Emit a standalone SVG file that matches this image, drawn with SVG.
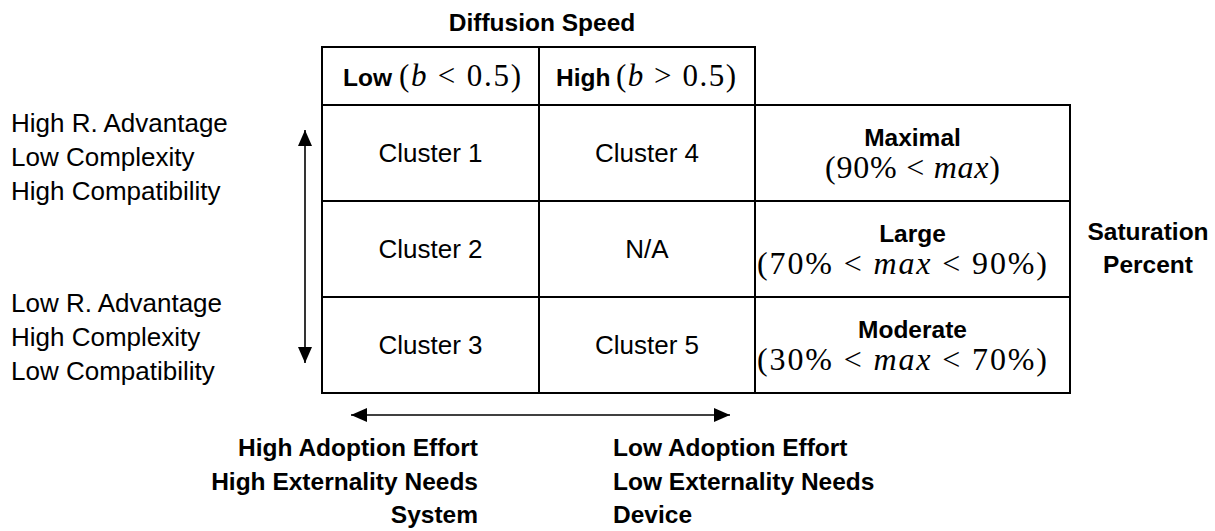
<svg xmlns="http://www.w3.org/2000/svg" width="1215" height="531" viewBox="0 0 1215 531">
<style>
  .cell { fill: #ffffff; stroke: #000000; stroke-width: 2; }
  .t { font-family: "Liberation Sans", Arial, sans-serif; font-size: 26px; fill: #000000; }
  .b { font-family: "Liberation Sans", Arial, sans-serif; font-size: 24.5px; font-weight: bold; fill: #000000; }
  .m { font-family: "Liberation Serif", "Times New Roman", serif; font-size: 31px; fill: #000000; }
  .i { font-style: italic; }
  .mid { text-anchor: middle; }
  .end { text-anchor: end; }
  .arrow { stroke: #000000; stroke-width: 1.6; fill: none; marker-start: url(#head); marker-end: url(#head); }
</style>
<defs>
  <marker id="head" viewBox="0 0 16 14" refX="16" refY="7" markerWidth="16" markerHeight="14" markerUnits="userSpaceOnUse" orient="auto-start-reverse">
    <path d="M0,0 L16,7 L0,14 Z" fill="#000000"/>
  </marker>
</defs>
<rect width="1215" height="531" fill="#ffffff"/>

<g id="title">
  <text class="b mid" x="542" y="31">Diffusion Speed</text>
</g>

<g id="header-low">
  <rect class="cell" x="322" y="47" width="217" height="58"/>
  <text class="b" x="343" y="86">Low</text>
  <text class="m" x="399" y="86" textLength="122">(<tspan class="i">b</tspan> &lt; 0.5)</text>
</g>
<g id="header-high">
  <rect class="cell" x="539" y="47" width="216" height="58"/>
  <text class="b" x="556" y="86">High</text>
  <text class="m" x="616" y="86" textLength="120">(<tspan class="i">b</tspan> &gt; 0.5)</text>
</g>

<g id="cluster-1">
  <rect class="cell" x="322" y="105" width="217" height="96"/>
  <text class="t mid" x="430.5" y="162">Cluster 1</text>
</g>
<g id="cluster-4">
  <rect class="cell" x="539" y="105" width="216" height="96"/>
  <text class="t mid" x="647" y="162">Cluster 4</text>
</g>
<g id="maximal">
  <rect class="cell" x="755" y="105" width="315" height="96"/>
  <text class="b mid" x="912.5" y="146">Maximal</text>
  <text class="m" x="825" y="178" textLength="175" style="font-size:32px">(90% &lt; <tspan class="i">max</tspan>)</text>
</g>

<g id="cluster-2">
  <rect class="cell" x="322" y="201" width="217" height="96"/>
  <text class="t mid" x="430.5" y="258">Cluster 2</text>
</g>
<g id="na">
  <rect class="cell" x="539" y="201" width="216" height="96"/>
  <text class="t mid" x="647" y="258">N/A</text>
</g>
<g id="large">
  <rect class="cell" x="755" y="201" width="315" height="96"/>
  <text class="b mid" x="912.5" y="242">Large</text>
  <text class="m" x="757" y="274" textLength="290" style="font-size:32px">(70% &lt; <tspan class="i">max</tspan> &lt; 90%)</text>
</g>

<g id="cluster-3">
  <rect class="cell" x="322" y="297" width="217" height="96"/>
  <text class="t mid" x="430.5" y="354">Cluster 3</text>
</g>
<g id="cluster-5">
  <rect class="cell" x="539" y="297" width="216" height="96"/>
  <text class="t mid" x="647" y="354">Cluster 5</text>
</g>
<g id="moderate">
  <rect class="cell" x="755" y="297" width="315" height="96"/>
  <text class="b mid" x="912.5" y="338">Moderate</text>
  <text class="m" x="757" y="370" textLength="290" style="font-size:32px">(30% &lt; <tspan class="i">max</tspan> &lt; 70%)</text>
</g>

<g id="saturation-label">
  <text class="b mid" x="1148" y="240">Saturation</text>
  <text class="b mid" x="1148" y="273">Percent</text>
</g>

<g id="left-top">
  <text class="t" x="11" y="132">High R. Advantage</text>
  <text class="t" x="11" y="166">Low Complexity</text>
  <text class="t" x="11" y="200">High Compatibility</text>
</g>
<g id="left-bottom">
  <text class="t" x="11" y="312">Low R. Advantage</text>
  <text class="t" x="11" y="346">High Complexity</text>
  <text class="t" x="11" y="380">Low Compatibility</text>
</g>

<g id="bottom-left">
  <text class="b end" x="478" y="456">High Adoption Effort</text>
  <text class="b end" x="478" y="490">High Externality Needs</text>
  <text class="b end" x="478" y="523">System</text>
</g>
<g id="bottom-right">
  <text class="b" x="613" y="456">Low Adoption Effort</text>
  <text class="b" x="613" y="490">Low Externality Needs</text>
  <text class="b" x="613" y="523">Device</text>
</g>

<g id="connectors">
  <line class="arrow" x1="305" y1="130" x2="305" y2="363"/>
  <line class="arrow" x1="351" y1="415" x2="730" y2="415"/>
</g>
</svg>
